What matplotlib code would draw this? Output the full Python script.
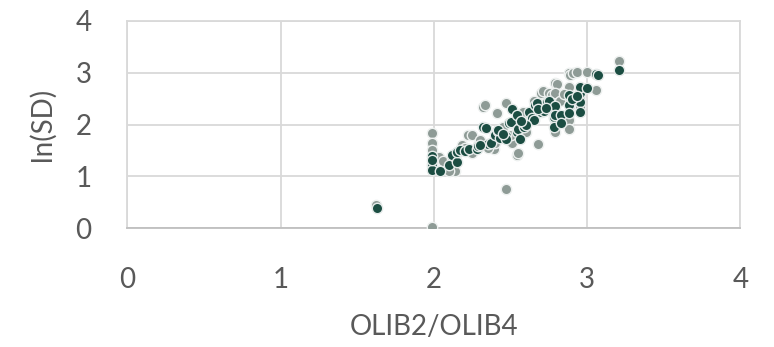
import matplotlib
matplotlib.use("Agg")
import matplotlib.pyplot as plt

# Series 1 (gray)
gray_x = [1.62, 1.99, 2.47, 1.99, 1.99, 1.99, 1.99, 2.03, 2.14, 2.06, 2.10,
          2.18, 2.22, 2.25, 2.29, 2.32, 2.33, 2.39, 2.41, 2.47, 2.51, 2.54,
          2.55, 2.68, 2.69, 2.70, 2.71, 2.75, 2.77, 2.79, 2.80, 2.79, 2.79,
          2.85, 2.88, 2.89, 2.88, 2.88, 2.88, 2.91, 2.93, 3.00, 3.06, 3.21,
          2.20, 2.30, 2.45, 2.55, 2.60, 2.65, 2.70, 2.75, 2.82, 2.90, 2.95,
          2.60, 2.50, 2.40, 2.15, 2.25, 2.35, 2.85, 2.95, 2.65, 2.12, 2.58]
gray_y = [0.45, 0.03, 0.75, 1.83, 1.64, 1.52, 1.20, 1.38, 1.11, 1.30, 1.10,
          1.61, 1.81, 1.80, 1.61, 2.35, 2.38, 1.53, 2.22, 2.41, 1.64, 1.42,
          1.45, 1.63, 2.30, 2.61, 2.64, 2.61, 2.58, 2.81, 2.78, 2.62, 1.85,
          2.48, 2.99, 2.96, 2.73, 2.09, 1.91, 3.00, 3.02, 3.01, 2.67, 3.23,
          1.55, 1.70, 1.95, 2.00, 2.15, 2.20, 2.35, 2.30, 2.45, 2.40, 2.35,
          1.85, 1.80, 1.65, 1.45, 1.45, 1.55, 2.60, 2.50, 2.45, 1.35, 2.25]

# Series 2 (dark green)
dark_x = [1.63, 1.99, 1.99, 1.99, 1.99, 2.04, 2.10, 2.12, 2.15, 2.15, 2.17,
          2.20, 2.23, 2.28, 2.29, 2.32, 2.35, 2.37, 2.40, 2.42, 2.43, 2.42,
          2.47, 2.47, 2.49, 2.50, 2.51, 2.54, 2.54, 2.55, 2.56, 2.59, 2.59,
          2.62, 2.64, 2.65, 2.66, 2.67, 2.70, 2.71, 2.72, 2.74, 2.75, 2.78,
          2.78, 2.78, 2.79, 2.79, 2.83, 2.83, 2.88, 2.88, 2.88, 2.95, 2.95,
          2.95, 2.95, 3.00, 3.06, 3.07, 3.21, 2.60, 2.34, 2.45, 2.68, 2.73,
          2.90, 2.93, 2.30, 2.57]
dark_y = [0.39, 1.40, 1.25, 1.13, 1.32, 1.11, 1.22, 1.42, 1.27, 1.48, 1.51,
          1.50, 1.53, 1.54, 1.59, 1.95, 1.63, 1.64, 1.80, 1.87, 1.74, 1.90,
          1.78, 1.72, 2.04, 2.06, 2.30, 2.19, 1.86, 1.91, 1.72, 1.96, 2.03,
          2.25, 2.12, 2.09, 2.38, 2.41, 2.25, 2.28, 2.27, 2.44, 2.46, 2.12,
          2.15, 1.96, 2.36, 2.19, 2.19, 2.03, 2.57, 2.38, 2.23, 2.61, 2.73,
          2.44, 2.25, 2.70, 2.97, 2.96, 3.06, 1.99, 1.93, 1.82, 2.30, 2.33,
          2.50, 2.55, 1.60, 2.08]

x_ticks = [0, 1, 2, 3, 4]
y_ticks = [0, 1, 2, 3, 4]
x_label = "OLIB2/OLIB4"
y_label = "ln(SD)"

plt.rcParams['font.family'] = ['Lato', 'DejaVu Sans']
txt = '#595959'

fig = plt.figure(figsize=(7.74, 3.47), dpi=100)
ax = fig.add_axes([0.1647, 0.342, 0.7920, 0.5975])

ax.scatter(gray_x, gray_y, s=56, color='#8E9B96', edgecolors='#EEF1F0',
           linewidths=1.0, zorder=3)
ax.scatter(dark_x, dark_y, s=56, color='#1B4D42', edgecolors='#E6EBEA',
           linewidths=1.0, zorder=4)

ax.set_xlim(0, 4)
ax.set_ylim(0, 4)
ax.set_xticks(x_ticks)
ax.set_yticks(y_ticks)
ax.grid(True, color='#D9D9D9', linewidth=1.3, zorder=0)
ax.set_axisbelow(True)
for side in ['top', 'right', 'left']:
    ax.spines[side].set_color('#D9D9D9')
    ax.spines[side].set_linewidth(1.3)
ax.spines['bottom'].set_color('#BFBFBF')
ax.spines['bottom'].set_linewidth(1.3)
ax.tick_params(length=0, labelsize=20, labelcolor=txt)
ax.tick_params(axis='x', pad=28)
ax.tick_params(axis='y', pad=26)
ax.set_xlabel(x_label, fontsize=20, color=txt, labelpad=15)
ax.set_ylabel(y_label, fontsize=20, color=txt, labelpad=14)

fig.savefig('out.png', dpi=100)
